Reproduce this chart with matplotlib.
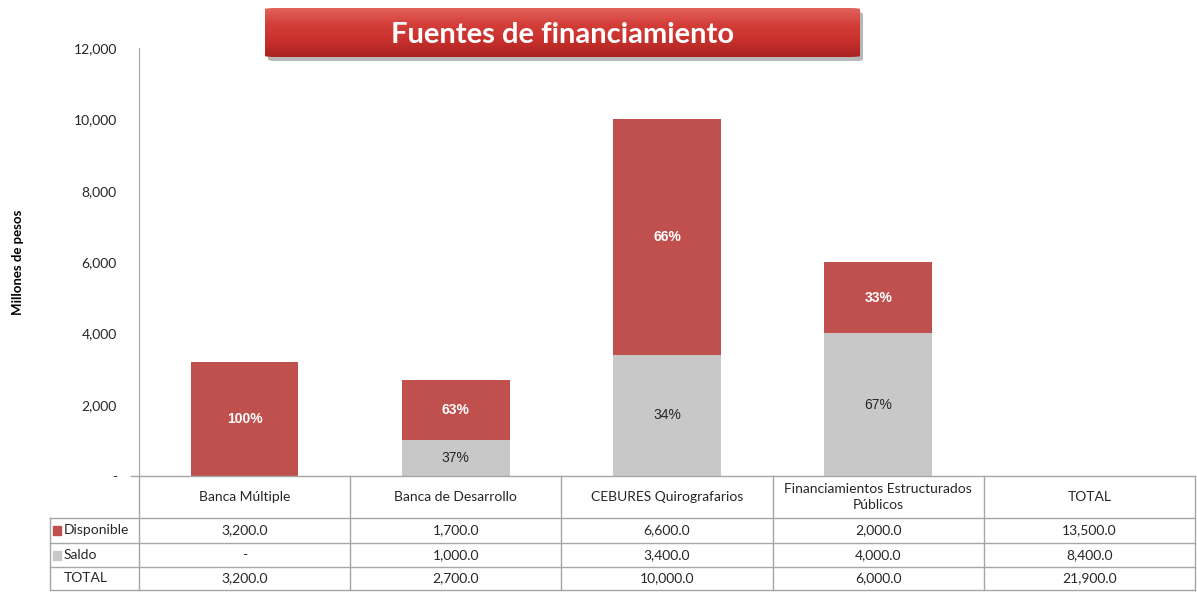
import numpy as np
import matplotlib
matplotlib.use("Agg")
import matplotlib.pyplot as plt
from matplotlib.patches import FancyBboxPatch, Rectangle

categorias = ["Banca Múltiple", "Banca de Desarrollo", "CEBURES Quirografarios",
              "Financiamientos Estructurados\nPúblicos"]
disponible = [3200, 1700, 6600, 2000]
saldo = [0, 1000, 3400, 4000]
yticks = [0, 2000, 4000, 6000, 8000, 10000, 12000]

ROJO = "#C0504D"
GRIS = "#C8C8C8"
LINEA = "#A6A6A6"
TXT = "#262626"

plt.rcParams["font.family"] = ["Lato", "DejaVu Sans"]

W, H = 1197, 593
fig = plt.figure(figsize=(W / 100, H / 100), dpi=100)

# plot area in pixels
x0, x1, ytop, ybot = 139, 1195, 48, 476
ax = fig.add_axes([x0 / W, 1 - ybot / H, (x1 - x0) / W, (ybot - ytop) / H])

x = np.arange(len(categorias))
total = [d + s for d, s in zip(disponible, saldo)]
ax.bar(x, saldo, width=0.51, color=GRIS, zorder=2)
ax.bar(x, disponible, width=0.51, bottom=saldo, color=ROJO, zorder=2)

for i in range(len(x)):
    t = total[i]
    pd_ = round(disponible[i] / t * 100)
    ax.text(x[i], saldo[i] + disponible[i] / 2, f"{pd_}%", ha="center", va="center",
            color="white", fontweight="bold", fontsize=10, family="Liberation Sans")
    if saldo[i] > 0:
        ps = round(saldo[i] / t * 100)
        ax.text(x[i], saldo[i] / 2, f"{ps}%", ha="center", va="center",
                color=TXT, fontsize=10, family="Liberation Sans")

ax.set_xlim(-0.5, 4.5)
ax.set_ylim(0, 12000)
ax.set_yticks(yticks)
ax.set_yticklabels(["-" if v == 0 else f"{v:,}" for v in yticks], fontsize=10, color=TXT)
ax.tick_params(axis="y", length=0, pad=16)
ax.set_xticks([])
for s in ["top", "right", "bottom"]:
    ax.spines[s].set_visible(False)
ax.spines["left"].set_color(LINEA)
ax.plot([-0.5 - 0.04, -0.5], [0, 0], color=LINEA, lw=1, clip_on=False, transform=ax.transData)

fig.text(18 / W, 1 - 262 / H, "Millones de pesos", rotation=90, ha="center", va="center",
         fontsize=9.5, fontweight="bold", color="black")

# data table (figure pixel coordinates)
col_edges = np.linspace(x0, x1, 6)
rows_y = [476, 518, 543, 567, 590]
lab_x0 = 50


def fx(px):
    return px / W


def fy(py):
    return 1 - py / H


lines = dict(color=LINEA, lw=1, transform=fig.transFigure)
fig.add_artist(plt.Line2D([fx(x0), fx(x1)], [fy(rows_y[0])] * 2, **lines))
for ry in rows_y[1:]:
    fig.add_artist(plt.Line2D([fx(lab_x0), fx(x1)], [fy(ry)] * 2, **lines))
fig.add_artist(plt.Line2D([fx(lab_x0)] * 2, [fy(rows_y[1]), fy(rows_y[-1])], **lines))
for ce in col_edges:
    fig.add_artist(plt.Line2D([fx(ce)] * 2, [fy(rows_y[0]), fy(rows_y[-1])], **lines))

encabezados = categorias + ["TOTAL"]
fila_disp = disponible + [sum(disponible)]
fila_saldo = saldo + [sum(saldo)]
fila_total = total + [sum(total)]


def fmt(v):
    return "-" if v == 0 else f"{v:,.1f}"


for j in range(5):
    cx = fx((col_edges[j] + col_edges[j + 1]) / 2)
    fig.text(cx, fy((rows_y[0] + rows_y[1]) / 2), encabezados[j], ha="center", va="center",
             fontsize=10, color=TXT, linespacing=1.4)
    for r, fila in enumerate([fila_disp, fila_saldo, fila_total]):
        fig.text(cx, fy((rows_y[r + 1] + rows_y[r + 2]) / 2), fmt(fila[j]), ha="center",
                 va="center", fontsize=10, color=TXT)

etiquetas = ["Disponible", "Saldo", "TOTAL"]
colores = [ROJO, GRIS, None]
for r in range(3):
    cy = (rows_y[r + 1] + rows_y[r + 2]) / 2
    if colores[r]:
        fig.add_artist(Rectangle((fx(53), fy(cy + 4.5)), 8 / W, 9 / H, color=colores[r],
                                 transform=fig.transFigure))
    fig.text(fx(64), fy(cy), etiquetas[r], ha="left", va="center", fontsize=10, color=TXT)

# title box with gradient and shadow
bx0, bx1, by0, by1 = 265, 860, 8, 57
shadow = FancyBboxPatch((fx(bx0 + 3), fy(by1 + 4)), (bx1 - bx0) / W, (by1 - by0) / H,
                        boxstyle="round,pad=0,rounding_size=0.004", transform=fig.transFigure,
                        facecolor="#8a8a8a", edgecolor="none", alpha=0.6, zorder=3)
fig.add_artist(shadow)
tax = fig.add_axes([fx(bx0), fy(by1), (bx1 - bx0) / W, (by1 - by0) / H])
tax.set_zorder(5)
tax.set_axis_off()
grad = np.linspace(0, 1, 100).reshape(-1, 1)
cmap = matplotlib.colors.LinearSegmentedColormap.from_list(
    "r", ["#E2625C", "#D43E39", "#C8302C", "#A82320"])
im = tax.imshow(grad, aspect="auto", cmap=cmap, extent=[0, 1, 0, 1], origin="upper")
box = FancyBboxPatch((0, 0), 1, 1, boxstyle="round,pad=0,rounding_size=0.02",
                     transform=tax.transAxes, facecolor="none", edgecolor="none")
tax.add_patch(box)
im.set_clip_path(box)
tax.text(0.5, 0.45, "Fuentes de financiamiento", ha="center", va="center",
         color="white", fontsize=21, fontweight="bold", transform=tax.transAxes)

fig.savefig("out.png", dpi=100)
